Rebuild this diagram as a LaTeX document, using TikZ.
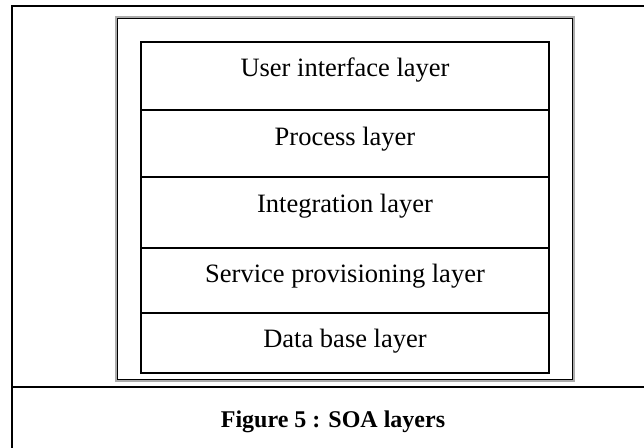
\documentclass[tikz,border=0pt]{standalone}
\usepackage{fontspec}
\setmainfont{Liberation Serif}
\begin{document}
\begin{tikzpicture}[x=0.5pt,y=-0.5pt,
  frameline/.style={line width=1pt,black},
  cellline/.style={line width=1pt,black},
  layertext/.style={anchor=base,inner sep=0pt,font=\fontsize{13.25}{16}\selectfont},
  captiontext/.style={anchor=base,inner sep=0pt,font=\bfseries\fontsize{12}{14}\selectfont}]
\useasboundingbox (0,0) rectangle (644,447);
\clip (0,0) rectangle (644,447);

% page frame with the caption row
\draw[frameline] (12,460) -- (12,6) -- (660,6);
\draw[frameline] (12,387) -- (660,387);

% outer border with its grey shade
\draw[line width=1pt,gray!65] (116.2,17.2) rectangle (573.8,380.8);
\draw[line width=0.85pt,black] (117.5,18.5) rectangle (572.5,379.5);

% layer stack
\draw[cellline] (141,42.3) rectangle (549,372.7);
\foreach \y in {110,176.7,247.7,313.3}
  \draw[cellline] (141,\y) -- (549,\y);

\node[layertext] (ui)   at (345,76)  {User interface layer};
\node[layertext] (proc) at (345,145) {Process layer};
\node[layertext] (intg) at (345,212) {Integration layer};
\node[layertext] (serv) at (345,282) {Service provisioning layer};
\node[layertext] (db)   at (345,347) {Data base layer};

\node[captiontext] (cap) at (333,427) {Figure 5 : SOA layers};
\end{tikzpicture}
\end{document}
